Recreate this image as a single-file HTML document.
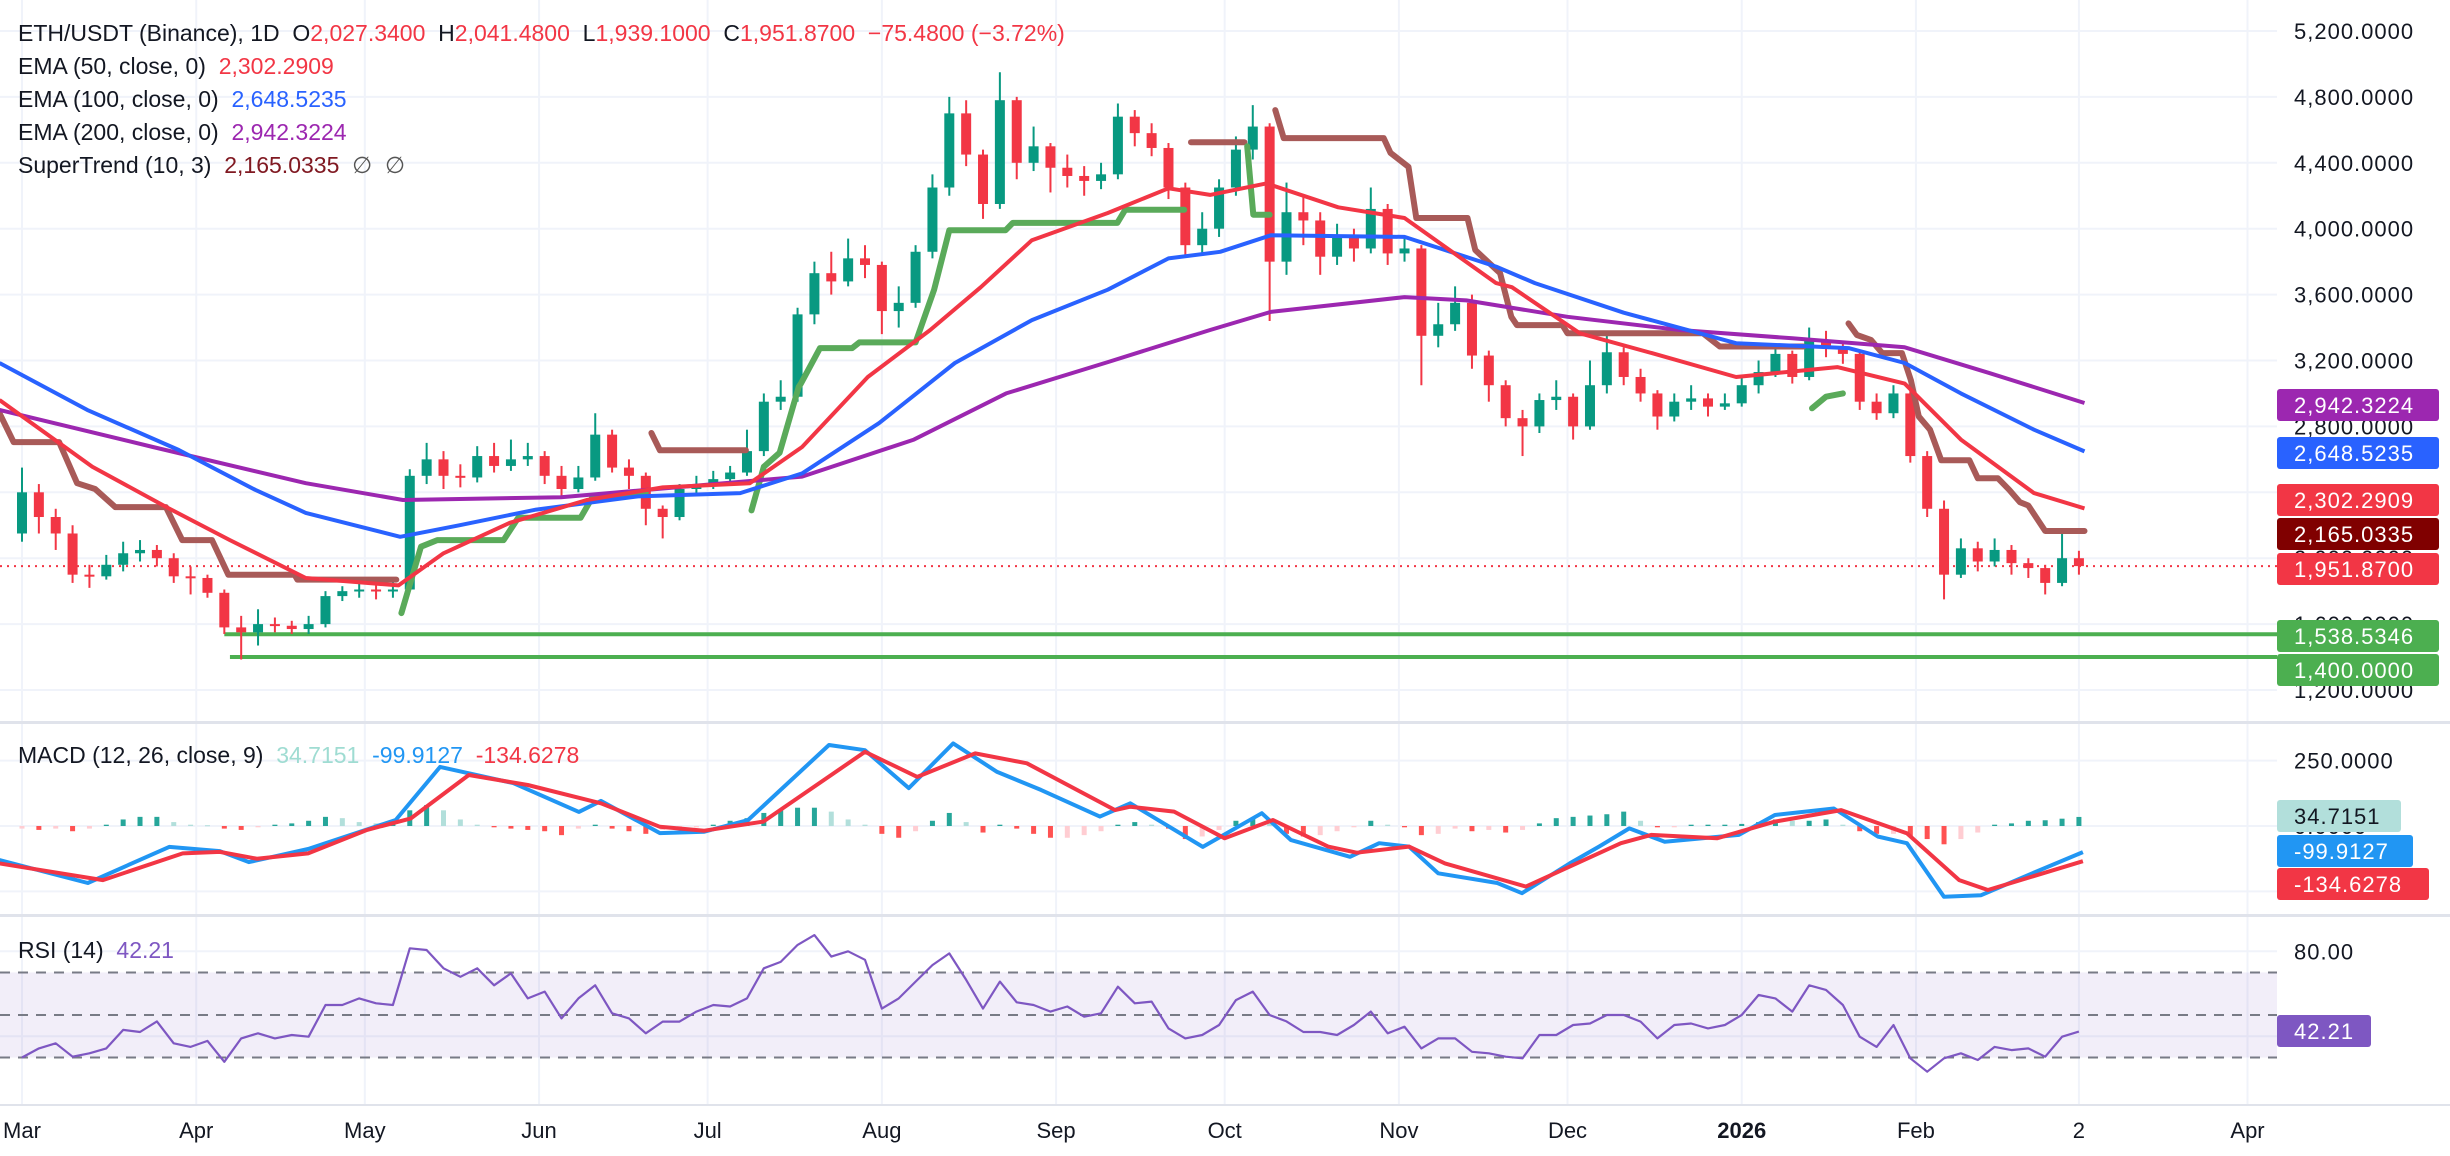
<!DOCTYPE html>
<html><head><meta charset="utf-8"><title>ETH/USDT chart</title>
<style>
html,body{margin:0;padding:0;background:#fff;}
svg{display:block;font-family:"Liberation Sans",sans-serif;}
#legend text{white-space:pre;}
</style></head>
<body>
<svg id="chart" width="2450" height="1156" viewBox="0 0 2450 1156" xmlns="http://www.w3.org/2000/svg" xml:space="preserve">
<rect x="0" y="0" width="2450" height="1156" fill="#ffffff"/>
<g id="grid"></g>
<g id="rsiBand"></g>
<g id="supports"></g>
<g id="candles"></g>
<g id="lines"></g>
<g id="macd"></g>
<g id="rsi"></g>
<rect x="0" y="721" width="2450" height="3" fill="#e0e3eb"/>
<rect x="0" y="914" width="2450" height="3" fill="#e0e3eb"/>
<g id="axis"></g>
<g id="xaxis"></g>
<g id="legend" font-size="23">
 <text x="18" y="41" fill="#131722">ETH/USDT (Binance), 1D  O<tspan fill="#f23645">2,027.3400</tspan>  H<tspan fill="#f23645">2,041.4800</tspan>  L<tspan fill="#f23645">1,939.1000</tspan>  C<tspan fill="#f23645">1,951.8700  −75.4800 (−3.72%)</tspan></text>
 <text x="18" y="74" fill="#131722">EMA (50, close, 0)  <tspan fill="#f23645">2,302.2909</tspan></text>
 <text x="18" y="107" fill="#131722">EMA (100, close, 0)  <tspan fill="#2962ff">2,648.5235</tspan></text>
 <text x="18" y="140" fill="#131722">EMA (200, close, 0)  <tspan fill="#9c27b0">2,942.3224</tspan></text>
 <text x="18" y="173" fill="#131722">SuperTrend (10, 3)  <tspan fill="#801922">2,165.0335</tspan>  <tspan fill="#555">∅  ∅</tspan></text>
 <text x="18" y="763" fill="#131722">MACD (12, 26, close, 9)  <tspan fill="#9fdcd2">34.7151</tspan>  <tspan fill="#2196f3">-99.9127</tspan>  <tspan fill="#f23645">-134.6278</tspan></text>
 <text x="18" y="958" fill="#131722">RSI (14)  <tspan fill="#7e57c2">42.21</tspan></text>
</g>
</svg>
<script>
// ---- price data (3-day candles) ----
const firstOpen = 2150;
const closes = [2400,2250,2150,1900,1890,1960,2030,2050,2000,1890,1880,1790,1580,1550,1600,1590,1570,1600,1770,1800,1810,1800,1810,2500,2600,2500,2490,2620,2560,2600,2620,2500,2420,2490,2750,2550,2500,2300,2250,2420,2440,2480,2520,2650,2950,2980,3480,3730,3680,3820,3780,3500,3550,3860,4250,4700,4450,4150,4780,4400,4500,4370,4320,4290,4330,4680,4580,4490,4250,3900,4000,4250,4480,4620,3800,4100,4050,3830,3960,3880,4120,3850,3880,3350,3420,3550,3230,3050,2850,2800,2960,2980,2800,3050,3250,3100,3000,2860,2950,2970,2920,2940,3050,3130,3240,3100,3320,3280,3240,2950,2880,3000,2620,2300,1900,2060,1980,2050,1970,1940,1850,2000,1952];
const highs = [2550,2450,2300,2200,1960,2020,2100,2110,2080,2030,1950,1900,1810,1650,1690,1640,1620,1650,1800,1830,1850,1860,1860,2540,2700,2650,2570,2680,2700,2720,2700,2650,2560,2560,2880,2780,2600,2520,2320,2450,2500,2530,2560,2780,3000,3080,3520,3800,3860,3940,3900,3800,3650,3900,4330,4800,4780,4480,4950,4800,4620,4520,4450,4380,4400,4760,4720,4640,4520,4280,4100,4300,4560,4750,4640,4280,4200,4100,4030,4000,4250,4150,3950,3900,3550,3650,3600,3260,3080,2900,3000,3080,3000,3200,3380,3280,3150,3020,3000,3050,3000,3000,3100,3200,3300,3260,3400,3380,3300,3260,3000,3050,3020,2650,2350,2120,2100,2120,2080,2000,1960,2150,2045];
const lows = [2100,2150,2050,1850,1820,1870,1920,1980,1950,1850,1780,1760,1540,1385,1470,1550,1540,1540,1580,1740,1760,1750,1760,1800,2450,2420,2430,2460,2520,2530,2560,2450,2380,2400,2470,2520,2420,2200,2120,2230,2380,2420,2460,2500,2620,2900,2950,3420,3600,3650,3700,3360,3400,3520,3820,4200,4380,4060,4120,4300,4350,4220,4250,4200,4240,4300,4500,4440,4180,3830,3850,3950,4200,4420,3440,3720,3900,3720,3780,3800,3850,3780,3800,3050,3280,3380,3150,2950,2800,2620,2760,2900,2720,2780,3000,3050,2950,2780,2830,2900,2860,2900,2920,3000,3100,3060,3080,3220,3180,2900,2840,2850,2580,2250,1750,1880,1920,1950,1900,1880,1780,1830,1900];
const candleStepDays = 3;
const priceTicks = [5200,4800,4400,4000,3600,3200,2800,2400,2000,1600,1200];
const supportLevels = [1538.5346, 1400];
const supportStartDays = [36, 37];
const lastPrice = 1951.87;
// ---- EMAs (day index, value) ----
const ema50Days = [-4,12.5,26,37,50.5,67,75,86.8,100.5,114,129.5,138.8,150.5,161.6,170.6,179.7,193.2,204,211.4,221.4,234.2,246,262.3,265.1,277.2,290,305,323,335,345,358,367];
const ema50Vals = [2960,2555,2305,2110,1880,1835,2030,2215,2353,2430,2455,2675,3100,3385,3645,3930,4095,4245,4205,4275,4130,4065,3670,3645,3365,3245,3100,3160,3060,2720,2395,2302.29];
const ema100Days = [-4,11.6,27.9,41.5,50.5,67.3,77.8,91.5,109.6,127.8,138.8,152.5,166,179.7,193.2,204,213.2,222.2,246,262.3,269.2,285,305,325,335,345,358,367];
const ema100Vals = [3185,2900,2657,2415,2275,2130,2200,2295,2375,2395,2515,2820,3185,3445,3630,3820,3860,3960,3950,3770,3670,3490,3305,3275,3185,3000,2780,2648.52];
const ema200Days = [-4,23.3,50.5,67.8,95.9,138.8,158.7,175.1,193.2,211.4,222.2,246,257,275,295,315,335,350,367];
const ema200Vals = [2900,2675,2455,2353,2370,2495,2720,3000,3190,3385,3495,3585,3565,3465,3385,3335,3280,3125,2942.32];
// ---- SuperTrend segments ----
const stTrend = ['down','up','down','up','down','up','down','up','down'];
const stDays = [
 [-4,-1.5,6.6,9.8,13,16.6,25.6,28.5,33.8,36.7,48.5,49,66.6],
 [67.5,71,73.9,85.7,88.3,99.4,101.5,111],
 [112,113.5,128.8],
 [129.8,132,134.8,138.2,138.6,142,147.7,149,159,162.3,165,175,176.3,194.9,196.3,206.8],
 [208,217.5],
 [218,219.1,222],
 [223,224.5,242.3,243.5,246.7,248.1,257.2,258.6,263,265,266,274.1,275,299.1,302.1,317],
 [318.5,321,324],
 [325,326.5,329,331,334.5,336.1,337.5,339.5,341.5,346.5,348,351.6,353.6,355.5,357,360,367]];
const stVals = [
 [2880,2705,2705,2455,2420,2310,2310,2110,2110,1900,1900,1870,1870],
 [1667,2070,2110,2110,2245,2245,2370,2400],
 [2760,2655,2655],
 [2290,2555,2640,3040,3060,3275,3275,3310,3310,3630,3990,3990,4035,4035,4115,4115],
 [4525,4525],
 [4500,4085,4085],
 [4720,4550,4550,4460,4375,4065,4065,3870,3730,3465,3415,3415,3365,3365,3285,3285],
 [2910,2980,3000],
 [3425,3355,3325,3245,3245,3080,2860,2780,2595,2595,2485,2485,2415,2340,2320,2165,2165]];
// ---- MACD ----
const macdDays = [-4,11.7,26.2,35.2,40.4,50.9,66.5,74.4,87.4,99.1,103,113.5,121.4,129.2,143.6,150,157.8,165.7,173.5,181.3,191.8,197.2,210.1,220.6,225.8,236.3,241.5,246.8,252,262.5,266.9,275.4,280.6,286,292.3,305.5,311.9,322.4,330.2,335.4,342,348.6,357.7,366.7];
const macdVals = [-130,-218,-80,-96,-138,-88,23,226,164,54,96,-27,-22,23,310,290,145,316,207,138,36,87,-80,49,-54,-118,-66,-79,-181,-218,-257,-143,-79,-9,-60,-34,42,67,-40,-66,-271,-265,-181,-99.91];
const signalDays = [-4,14.4,28.6,35.2,41.8,50.9,61.4,69.2,79.5,90,103,113.5,121.4,131.9,150,159.3,169.6,178.8,194.5,197.2,205,214,222.6,232.4,237.5,246.8,253.2,267.6,284.5,289.9,301.6,311.9,323.7,335.4,344.7,349.8,366.7];
const signalVals = [-143,-207,-105,-99,-125,-105,-15,29,195,157,87,-3,-18,17,284,188,278,240,61,74,55,-47,23,-79,-102,-79,-143,-232,-66,-34,-47,17,61,-28,-207,-245,-134.63];
const histVals = [-10,-15,-10,-20,-10,5,25,35,35,15,5,3,-10,-15,-5,5,10,20,35,30,15,10,15,60,80,60,25,5,-5,-10,-15,-20,-35,-10,5,-10,-20,-30,-15,-10,-5,5,20,30,50,60,70,70,55,25,5,-30,-45,-20,20,50,15,-25,5,-10,-30,-45,-45,-35,-20,5,15,5,-10,-50,-40,-15,20,30,10,-30,-40,-35,-20,-5,20,5,-5,-35,-30,-10,-20,-15,-25,-15,10,30,35,40,45,55,20,-5,-5,5,5,5,8,15,25,20,20,25,5,-20,-30,-30,-40,-50,-70,-50,-25,5,10,20,22,28,34.7];
const macdTicks = [250,0,-250];
// ---- RSI ----
const rsiVals = [30,34.3,36.7,30.4,32,34.3,43,42,47,36.7,35,37.8,28,39,41.4,39,40.6,39.8,54.7,54.7,57.8,55.5,54.7,81.4,80.6,72,68,72,64,69.6,57.8,61,48.4,57.8,64,50.8,48.4,41.4,46.9,46.9,51.6,54.7,54,57.8,72,75,83,87.6,77.5,80,76,53,57.8,65.7,73.5,79,66.5,53,65.7,56,54.7,51.6,54,49.2,50.8,63.3,55.5,56.3,43.7,39,40.6,45.3,57,61,50,47,42,42,40.6,45.3,51.6,41.4,44.5,34.3,39,39,32.7,32,30.4,29.6,40.6,40.6,45.3,46,50,50,46.9,39,45.3,46,43.7,45.3,50,59.4,57.8,51.6,64,61.8,54.7,39.8,35,45.3,29.6,23.3,29.6,32,28.8,35,33.5,34.3,30.4,39.8,42.21];
const rsiLevels = [70,50,30];
const rsiTicks = [80,40];
// ---- time axis ----
const monthLabels = ['Mar','Apr','May','Jun','Jul','Aug','Sep','Oct','Nov','Dec','2026','Feb','2','Apr'];
const monthDays = [0,31,61,92,122,153,184,214,245,275,306,337,366,396];

// ---- scales ----
const NS='http://www.w3.org/2000/svg';
const PLOT_R = 2277;
function xd(d){return 22 + d*5.62;}
function yp(p){return 31 + (5200-p)*0.16475;}
function ym(v){return 826 - v*0.2613;}
function yr(v){return 1015 - (v-50)*2.125;}
function mk(tag, attrs, parent){const e=document.createElementNS(NS,tag);for(const k in attrs)e.setAttribute(k,attrs[k]);parent.appendChild(e);return e;}
function fmt(v,dec){const s=Math.abs(v).toFixed(dec);const parts=s.split('.');parts[0]=parts[0].replace(/\B(?=(\d{3})+(?!\d))/g,',');return (v<0?'-':'')+parts.join('.');}
function pathOf(days, vals, yf){return days.map((d,i)=>(i?'L':'M')+xd(d).toFixed(1)+' '+yf(vals[i]).toFixed(1)).join(' ');}

const svg=document.getElementById('chart');
const defs=mk('defs',{},svg);
const cp1=mk('clipPath',{id:'clipMain'},defs); mk('rect',{x:0,y:0,width:PLOT_R,height:721},cp1);
const cp2=mk('clipPath',{id:'clipMacd'},defs); mk('rect',{x:0,y:724,width:PLOT_R,height:190},cp2);
const cp3=mk('clipPath',{id:'clipRsi'},defs); mk('rect',{x:0,y:917,width:PLOT_R,height:190},cp3);

// grid
const grid=document.getElementById('grid');
monthDays.forEach((d,i)=>{
 const l=mk('line',{x1:xd(d),x2:xd(d),y1:0,y2:1105,stroke:'#f0f3fa','stroke-width':2},grid);
 
 
});
priceTicks.forEach(p=>{
 const l=mk('line',{x1:0,x2:PLOT_R,y1:yp(p),y2:yp(p),stroke:'#f0f3fa','stroke-width':2},grid);
 
 
});
macdTicks.forEach(v=>{
 const l=mk('line',{x1:0,x2:PLOT_R,y1:ym(v),y2:ym(v),stroke:'#f0f3fa','stroke-width':2},grid);
 
 
});
rsiTicks.forEach(v=>{
 const l=mk('line',{x1:0,x2:PLOT_R,y1:yr(v),y2:yr(v),stroke:'#f0f3fa','stroke-width':2},grid);
 
 
});
mk('rect',{x:0,y:1104,width:2450,height:2,fill:'#e0e3eb'},grid);

// RSI band
const band=document.getElementById('rsiBand');
const br=mk('rect',{x:0,y:yr(rsiLevels[0]),width:PLOT_R,height:yr(rsiLevels[2])-yr(rsiLevels[0]),fill:'#7e57c2','fill-opacity':0.1},band);


rsiLevels.forEach(v=>{
 const l=mk('line',{x1:0,x2:PLOT_R,y1:yr(v),y2:yr(v),stroke:'#787b86','stroke-width':2,'stroke-dasharray':'10 8'},band);
 
 
});

// supports + last price line
const sup=document.getElementById('supports');
supportLevels.forEach((p,i)=>{
 const l=mk('line',{x1:xd(supportStartDays[i]),x2:PLOT_R,y1:yp(p),y2:yp(p),stroke:'#4caf50','stroke-width':4},sup);
 
 
});
const pl=mk('line',{x1:0,x2:PLOT_R,y1:yp(lastPrice),y2:yp(lastPrice),stroke:'#f23645','stroke-width':2,'stroke-dasharray':'2 5'},sup);



// candles
const cg=document.getElementById('candles');
cg.setAttribute('clip-path','url(#clipMain)');
closes.forEach((c,k)=>{
 const o = k===0?firstOpen:closes[k-1];
 const x = xd(k*candleStepDays);
 const col = c>=o?'#089981':'#f23645';
 const g=mk('g',{},cg);
 
 
 mk('line',{x1:x,x2:x,y1:yp(highs[k]),y2:yp(lows[k]),stroke:col,'stroke-width':2},g);
 const top=yp(Math.max(o,c)), bot=yp(Math.min(o,c));
 mk('rect',{x:x-5,y:top,width:10,height:Math.max(2,bot-top),fill:col},g);
});

// indicator lines
const lg=document.getElementById('lines');
lg.setAttribute('clip-path','url(#clipMain)');
stTrend.forEach((t,i)=>{
 const p=mk('path',{d:pathOf(stDays[i],stVals[i],yp),fill:'none',stroke:t==='down'?'#a85a58':'#5aaa5a','stroke-width':6,'stroke-linejoin':'round','stroke-linecap':'round'},lg);
 
 
});
[[ema200Days,ema200Vals,'#9c27b0','ema200-line'],[ema100Days,ema100Vals,'#2962ff','ema100-line'],[ema50Days,ema50Vals,'#f23645','ema50-line']].forEach(a=>{
 const p=mk('path',{d:pathOf(a[0],a[1],yp),fill:'none',stroke:a[2],'stroke-width':4,'stroke-linejoin':'round'},lg);
 
 
});

// MACD
const mg=document.getElementById('macd');
mg.setAttribute('clip-path','url(#clipMacd)');
histVals.forEach((v,k)=>{
 const prev=k?histVals[k-1]:v;
 let col; if(v>=0) col = v>=prev?'#26a69a':'#b2dfdb'; else col = v<prev?'#ff5252':'#ffcdd2';
 const y0=ym(0), y1=ym(v);
 const r=mk('rect',{x:xd(k*candleStepDays)-2.5,y:Math.min(y0,y1),width:5,height:Math.max(1,Math.abs(y1-y0)),fill:col},mg);
 
 
});
const mlp=mk('path',{d:pathOf(macdDays,macdVals,ym),fill:'none',stroke:'#2196f3','stroke-width':4,'stroke-linejoin':'round'},mg);


const slp=mk('path',{d:pathOf(signalDays,signalVals,ym),fill:'none',stroke:'#f23645','stroke-width':4,'stroke-linejoin':'round'},mg);



// RSI
const rg=document.getElementById('rsi');
rg.setAttribute('clip-path','url(#clipRsi)');
const rp=mk('path',{d:rsiVals.map((v,k)=>(k?'L':'M')+xd(k*candleStepDays).toFixed(1)+' '+yr(v).toFixed(1)).join(' '),fill:'none',stroke:'#7e57c2','stroke-width':2.2,'stroke-linejoin':'round'},rg);



// price axis
const ax=document.getElementById('axis');
function axText(y,txt,name){const t=mk('text',{x:2294,y:y+8,'font-size':22,fill:'#131722','letter-spacing':1},ax);t.textContent=txt;}
priceTicks.forEach(p=>axText(yp(p),fmt(p,4),'price-tick-label'));
macdTicks.forEach(v=>axText(ym(v),fmt(v,4),'macd-tick-label'));
rsiTicks.forEach(v=>axText(yr(v),fmt(v,2),'rsi-tick-label'));
function box(yc,txt,bg,fg,w,name){
 const g=mk('g',{},ax);
 
 
 mk('rect',{x:PLOT_R,y:yc-16,width:w,height:32,rx:3,fill:bg},g);
 const t=mk('text',{x:2294,y:yc+8,'font-size':22,fill:fg,'letter-spacing':1},g);t.textContent=txt;
}
box(405,'2,942.3224','#9c27b0','#fff',162,'ema200-price-label');
box(453,'2,648.5235','#2962ff','#fff',162,'ema100-price-label');
box(500,'2,302.2909','#f23645','#fff',162,'ema50-price-label');
box(534,'2,165.0335','#800000','#fff',162,'supertrend-price-label');
box(569,'1,951.8700','#f23645','#fff',162,'last-price-label');
box(636,'1,538.5346','#4caf50','#fff',162,'support-1-label');
box(670,'1,400.0000','#4caf50','#fff',162,'support-2-label');
box(816,'34.7151','#b2dfdb','#131722',124,'histogram-value-label');
box(851,'-99.9127','#2196f3','#fff',136,'macd-value-label');
box(884,'-134.6278','#f23645','#fff',152,'signal-value-label');
box(1031,'42.21','#7e57c2','#fff',94,'rsi-value-label');

// time axis
const xa=document.getElementById('xaxis');
monthLabels.forEach((m,i)=>{
 const t=mk('text',{x:xd(monthDays[i]),y:1138,'font-size':22,fill:'#131722','text-anchor':'middle','font-weight':m==='2026'?'bold':'normal'},xa);
 t.textContent=m;
 
 
});
</script>
</body></html>
